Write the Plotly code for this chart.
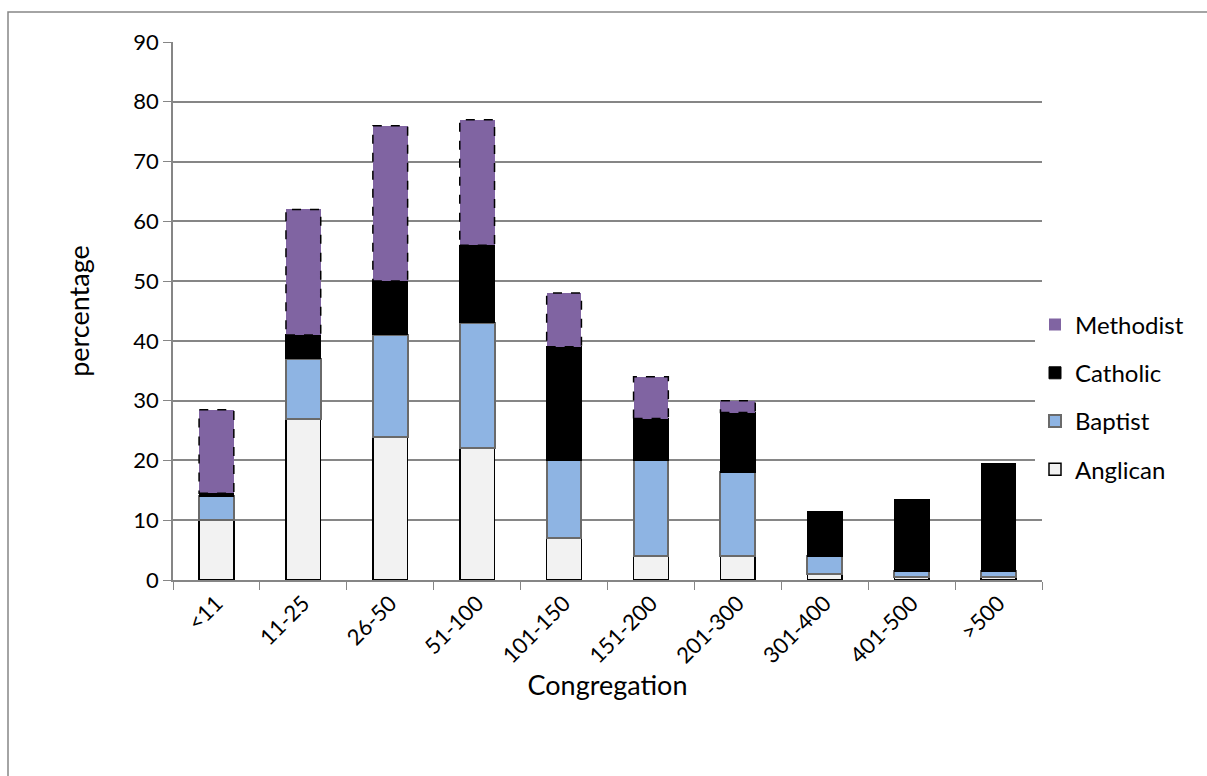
import plotly.graph_objects as go

categories = ["<11", "11-25", "26-50", "51-100", "101-150", "151-200", "201-300", "301-400", "401-500", ">500"]
anglican = [10, 27, 24, 22, 7, 4, 4, 1, 0.5, 0.5]
baptist = [4, 10, 17, 21, 13, 16, 14, 3, 1, 1]
catholic = [0.5, 4, 9, 13, 19, 7, 10, 7.5, 12, 18]
methodist = [14, 21, 26, 21, 9, 7, 2, 0, 0, 0]
y_ticks = [0, 10, 20, 30, 40, 50, 60, 70, 80, 90]

FONT = "Lato, Open Sans, sans-serif"
W = 0.4

L, R, T, B = 173, 165, 42, 196
PW, PH = 1207 - L - R, 776 - T - B

fig = go.Figure()
fig.add_trace(go.Bar(x=categories, y=anglican, name="Anglican", width=W, legendgroup="a", legendrank=4,
                     marker=dict(color="#F2F2F2", line=dict(color="#000000", width=1.5))))
fig.add_trace(go.Bar(x=categories, y=baptist, name="Baptist", width=W, legendgroup="b", legendrank=3,
                     marker=dict(color="#8EB4E3", line=dict(color="#6A6A6A", width=2))))
fig.add_trace(go.Bar(x=categories, y=catholic, name="Catholic", width=W, legendgroup="c", legendrank=2,
                     marker=dict(color="#000000", line=dict(color="#000000", width=1))))
fig.add_trace(go.Bar(x=categories, y=methodist, name="Methodist", width=W, legendgroup="d", legendrank=1,
                     marker=dict(color="#8064A2", line=dict(color="#000000", width=1.5))))

# dashed outline for methodist segments
for i in range(len(categories)):
    if methodist[i] > 0:
        base = anglican[i] + baptist[i] + catholic[i]
        fig.add_shape(type="rect", xref="x", yref="y",
                      x0=i - W / 2, x1=i + W / 2, y0=base, y1=base + methodist[i],
                      line=dict(color="#000000", width=1.5, dash="dash"), layer="above")
fig.data[3].marker.line.width = 0

# outer chart border
fig.add_shape(type="rect", xref="paper", yref="paper",
              x0=(8 - L) / PW, x1=(1220 - L) / PW,
              y0=(T + PH - 800) / PH, y1=(T + PH - 12) / PH,
              line=dict(color="#868686", width=1.5), layer="below")

fig.update_layout(
    barmode="stack",
    width=1207, height=776,
    margin=dict(l=L, r=R, t=T, b=B, autoexpand=False),
    paper_bgcolor="white", plot_bgcolor="white",
    font=dict(family=FONT, size=22, color="#000000"),
    showlegend=True,
    legend=dict(x=(1035 - L) / PW, y=(580 - 397) / PH, xanchor="left", yanchor="middle",
                traceorder="grouped", tracegroupgap=14,
                font=dict(family=FONT, size=24), itemwidth=30),
    xaxis=dict(
        title=dict(text="Congregation", font=dict(family=FONT, size=27), standoff=4),
        tickangle=-45, tickson="boundaries", ticks="outside", ticklen=8,
        tickcolor="#868686", showline=True, linecolor="#868686", linewidth=1.5,
        tickfont=dict(family=FONT, size=22),
    ),
    yaxis=dict(
        title=dict(text="percentage", font=dict(family=FONT, size=27), standoff=36),
        range=[0, 90], tickvals=y_ticks, ticks="outside", ticklen=8, tickcolor="#868686",
        showline=True, linecolor="#868686", linewidth=1.5,
        showgrid=True, gridcolor="#868686", gridwidth=1.5, zeroline=False,
        tickfont=dict(family=FONT, size=22),
    ),
)

fig.write_html("out.html")
